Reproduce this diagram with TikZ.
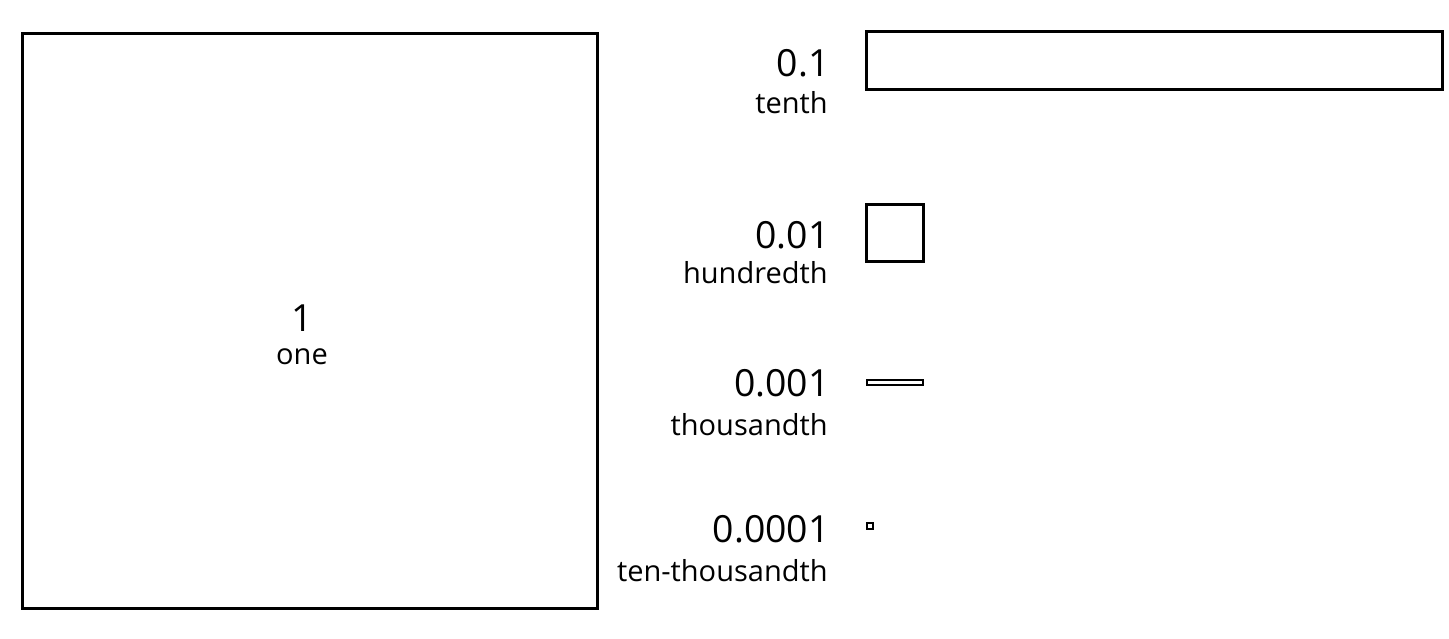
\documentclass[tikz,border=0pt]{standalone}
\usepackage{fontspec}
\setmainfont{Open Sans}

\begin{document}
\begin{tikzpicture}[x=0.5pt, y=-0.5pt]
        % ================= 样式定义 =================
        \tikzset{
            % 粗黑边方块
            box/.style={draw=black, line width=1.5pt},
            % 细黑边小方块
            tinybox/.style={draw=black, line width=1pt},
            % 数字标签
            numtext/.style={anchor=base east, inner sep=0pt, font=\fontsize{18.7}{22}\selectfont},
            % 名称标签
            wordtext/.style={anchor=base east, inner sep=0pt, font=\fontsize{14.5}{17}\selectfont}
        }
        \useasboundingbox (0,0) rectangle (1449,638);

        % ================= 左图:1 =================
        \draw[box] (22,33.5) rectangle (597.5,608.5);
        \node[numtext, anchor=base] (n1) at (302,331.7) {1};
        \node[wordtext, anchor=base] (w1) at (302,364) {one};

        % ================= 右侧:小数位 =================
        \draw[box] (866.5,31.5) rectangle (1442,89.5);
        \draw[box] (866.5,204) rectangle (923.5,261);
        \draw[tinybox] (866.5,379.8) rectangle (923.3,385);
        \draw[tinybox] (866.5,523.3) rectangle (872.5,529);

        % 标签 (右对齐)
        \foreach \name/\num/\word/\yn/\yw in {a/0.1/tenth/76.7/113,
                b/0.01/hundredth/248.3/283.5,
                c/0.001/thousandth/396.7/435.5,
                d/0.0001/ten-thousandth/542.7/581.5} {
            \node[numtext] (n\name) at (830,\yn) {\num};
            \node[wordtext] (w\name) at (828,\yw) {\word};
        }

    \end{tikzpicture}
\end{document}
